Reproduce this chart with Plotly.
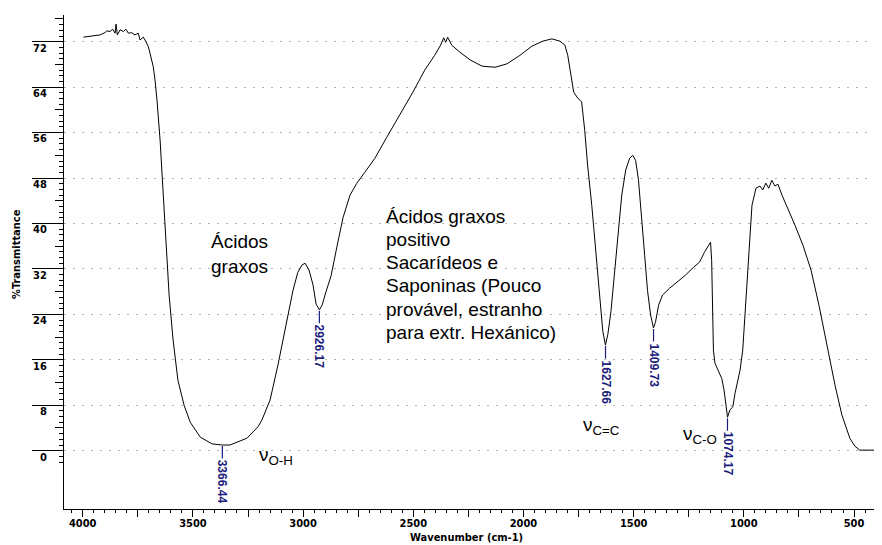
import plotly.graph_objects as go

# ---------------- data ----------------
wavenumber = [3997, 3952, 3921, 3899, 3891, 3876, 3864, 3853, 3849, 3843, 3830, 3816, 3804, 3793,
              3778, 3763, 3748, 3740, 3725, 3713, 3702, 3695, 3687, 3680, 3672, 3663, 3649, 3636,
              3622, 3608, 3590, 3568, 3540, 3512, 3467, 3413, 3366, 3332, 3255, 3205, 3187, 3150,
              3114, 3078, 3046, 3024, 3005, 2991, 2973, 2955, 2941, 2926, 2914, 2896, 2873, 2846,
              2819, 2787, 2756, 2720, 2674, 2620, 2561, 2502, 2448, 2403, 2376, 2362, 2353, 2344,
              2326, 2290, 2242, 2188, 2129, 2075, 2016, 1962, 1912, 1871, 1835, 1812, 1799, 1785,
              1772, 1754, 1736, 1722, 1709, 1690, 1672, 1654, 1640, 1628, 1617, 1603, 1590, 1572,
              1554, 1536, 1518, 1504, 1491, 1478, 1464, 1450, 1437, 1423, 1410, 1401, 1387, 1369,
              1337, 1301, 1265, 1228, 1201, 1179, 1160, 1151, 1146, 1142, 1138, 1131, 1100, 1090,
              1082, 1074, 1063, 1050, 1040, 1017, 1005, 990, 977, 963, 945, 927, 914, 900, 887,
              873, 859, 845, 827, 800, 768, 732, 695, 659, 623, 586, 555, 519, 496, 474, 396]
transmittance = [72.8, 73.0, 73.2, 73.6, 73.9, 73.8, 74.2, 73.5, 75.1, 73.2, 74.1, 73.8, 74.2, 73.5,
                 73.6, 73.2, 73.5, 72.3, 72.8, 72.0, 71.1, 70.0, 68.8, 67.6, 65.3, 61.7, 54.7, 45.9,
                 36.2, 27.4, 19.5, 12.4, 8.0, 5.0, 2.4, 1.2, 1.0, 1.0, 2.2, 4.2, 5.4, 8.9,
                 15.1, 22.1, 28.2, 31.4, 32.7, 33.0, 31.8, 29.2, 25.8, 24.8, 25.6, 28.0, 30.8, 36.0,
                 41.0, 45.0, 47.1, 49.0, 51.5, 55.2, 59.1, 63.1, 67.0, 69.6, 71.4, 72.7, 71.9, 72.8,
                 71.4, 70.2, 68.8, 67.7, 67.5, 68.1, 69.6, 71.2, 72.1, 72.5, 72.1, 71.4, 69.6, 66.1,
                 63.1, 62.1, 61.4, 56.4, 50.3, 43.2, 35.3, 27.0, 21.0, 18.6, 20.5, 24.5, 30.0, 38.0,
                 45.0, 49.4, 51.5, 52.0, 51.1, 47.6, 41.5, 34.4, 28.2, 23.9, 21.6, 22.6, 25.6, 27.4,
                 28.6, 29.7, 30.9, 32.3, 33.2, 34.9, 36.3, 36.7, 33.5, 26.0, 17.7, 15.4, 12.7, 10.7,
                 7.7, 5.9, 7.2, 7.7, 10.1, 14.2, 17.7, 26.5, 35.3, 43.2, 46.2, 46.6, 45.9, 47.1, 46.2,
                 47.6, 46.6, 46.9, 45.0, 42.7, 39.7, 36.2, 31.8, 25.6, 18.6, 11.5, 6.3, 2.2, 0.8, 0.1, 0.1]

peak_wn = [3366.44, 2926.17, 1627.66, 1409.73, 1074.17]
peak_t = [1.0, 24.8, 18.6, 21.6, 5.9]
peak_text = ["3366.44", "2926.17", "1627.66", "1409.73", "1074.17"]

x_tick_vals = list(range(500, 4001, 250))
x_tick_text = [str(v) if v % 500 == 0 else " " for v in x_tick_vals]
y_tick_vals = list(range(0, 73, 8))
y_tick_text = [str(v) for v in y_tick_vals]
y_mid_vals = list(range(4, 77, 8))
y_minor_vals = list(range(-2, 77, 1))

label_left_lines = ["Ácidos", "graxos"]
label_mid_lines = ["Ácidos graxos", "positivo", "Sacarídeos e", "Saponinas (Pouco",
                   "provável, estranho", "para extr. Hexánico)"]
nu_labels = ["ν<sub>O-H</sub>", "ν<sub>C=C</sub>", "ν<sub>C-O</sub>"]

# ---------------- layout helpers ----------------
# the page body has an 8px margin, so the figure is drawn 8px in from the window corner
OFF = 8
WIN_W, WIN_H = 882, 545
W, H = WIN_W - OFF, WIN_H - OFF
PLOT_L, PLOT_T, PLOT_R, PLOT_B = 64, 15, 882, 509   # plot box in window pixels
L, T = PLOT_L - OFF, PLOT_T - OFF
R, B = WIN_W - PLOT_R, WIN_H - PLOT_B
PW, PH = PLOT_R - PLOT_L, PLOT_B - PLOT_T


def px(x):
    return (x - PLOT_L) / PW


def py(y):
    return (PLOT_B - y) / PH


NARROW = "Liberation Sans Narrow, Arial Narrow, DejaVu Sans Condensed, sans-serif"
ARIAL = "Liberation Sans, Arial, sans-serif"
NAVY = "#1c1c7c"

fig = go.Figure()
fig.add_trace(go.Scatter(x=wavenumber, y=transmittance, mode="lines",
                         line=dict(color="black", width=1), showlegend=False,
                         hoverinfo="skip"))
fig.add_trace(go.Scatter(x=[], y=[], yaxis="y2", showlegend=False))

annotations = []
for wn, t, txt in zip(peak_wn, peak_t, peak_text):
    annotations.append(dict(x=wn, y=t, xref="x", yref="y", text=txt, textangle=90,
                            showarrow=True, arrowhead=0, arrowwidth=1.2, arrowcolor=NAVY,
                            ax=0, ay=37, standoff=1,
                            font=dict(family=ARIAL, size=12, color=NAVY, weight="bold")))

for i, line in enumerate(label_left_lines):
    annotations.append(dict(x=px(209), y=py(242 + 24 * i), xref="paper", yref="paper",
                            text=line, showarrow=False, xanchor="left", yanchor="middle",
                            font=dict(family=ARIAL, size=19, color="black")))
for i, line in enumerate(label_mid_lines):
    annotations.append(dict(x=px(384), y=py(216 + 23.3 * i), xref="paper", yref="paper",
                            text=line, showarrow=False, xanchor="left", yanchor="middle",
                            font=dict(family=ARIAL, size=19, color="black")))
for txt, (xx, yy) in zip(nu_labels, [(257, 456), (581, 426), (681, 435)]):
    annotations.append(dict(x=px(xx), y=py(yy), xref="paper", yref="paper", text=txt,
                            showarrow=False, xanchor="left", yanchor="middle",
                            font=dict(family=ARIAL, size=19, color="black")))

annotations.append(dict(x=px(17), y=py(254), xref="paper", yref="paper", text="%Transmittance",
                        textangle=-90, showarrow=False, xanchor="center", yanchor="middle",
                        font=dict(family=NARROW, size=11, color="black", weight="bold")))
annotations.append(dict(x=px(466), y=py(537), xref="paper", yref="paper",
                        text="Wavenumber (cm-1)", showarrow=False,
                        xanchor="center", yanchor="middle",
                        font=dict(family=NARROW, size=11, color="black", weight="bold")))

fig.update_layout(
    width=W, height=H,
    margin=dict(l=L, r=R, t=T, b=B, pad=0, autoexpand=False),
    paper_bgcolor="white", plot_bgcolor="white",
    showlegend=False,
    annotations=annotations,
    xaxis=dict(range=[4085, 373], tickmode="array", tickvals=x_tick_vals, ticktext=x_tick_text,
               ticks="outside", ticklen=7, tickwidth=1, tickcolor="black",
               ticklabelstandoff=-3,
               minor=dict(dtick=50, tick0=0, ticks="outside", ticklen=3, tickcolor="black"),
               showline=True, linecolor="black", linewidth=1, showgrid=False, zeroline=False,
               tickfont=dict(family=NARROW, size=11, color="black", weight="bold")),
    yaxis=dict(range=[-10.26, 76.7], tickmode="array", tickvals=y_tick_vals, ticktext=y_tick_text,
               ticks="outside", ticklen=31, tickwidth=1, tickcolor="black",
               ticklabelstandoff=-17, ticklabelshift=6,
               minor=dict(tickmode="array", tickvals=y_minor_vals, ticks="outside", ticklen=4,
                          tickcolor="black"),
               showline=True, linecolor="black", linewidth=1,
               showgrid=True, gridcolor="#b4b4b4", gridwidth=1, griddash="2px,7px",
               zeroline=False,
               tickfont=dict(family=NARROW, size=11, color="black", weight="bold")),
    yaxis2=dict(range=[-10.26, 76.7], overlaying="y", anchor="x", side="left",
                tickmode="array", tickvals=y_mid_vals, ticks="outside", ticklen=8,
                tickcolor="black", showticklabels=False, showgrid=False, showline=False,
                zeroline=False),
)

fig.write_html("out.html")
